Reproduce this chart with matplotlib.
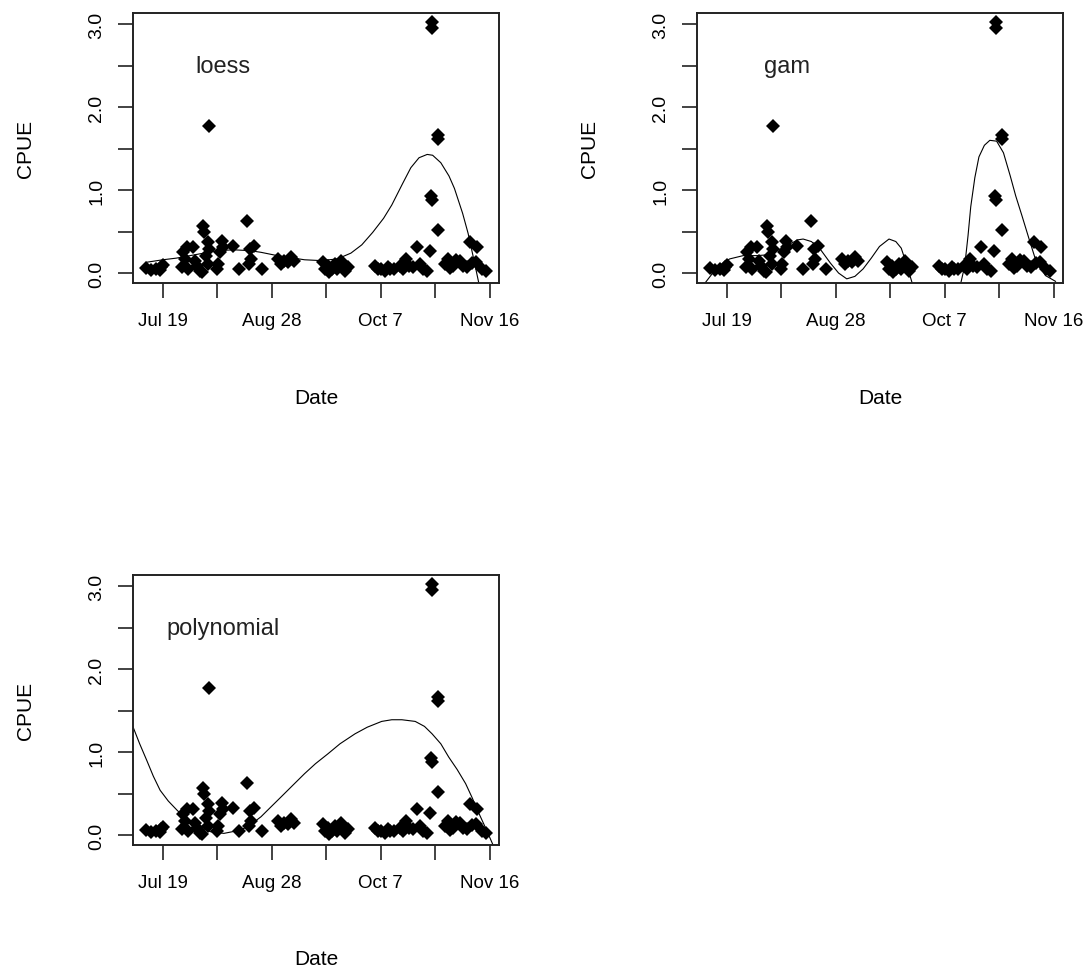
import matplotlib
matplotlib.use("Agg")
import matplotlib.pyplot as plt
import numpy as np

plt.rcParams['font.family'] = ['Liberation Sans', 'DejaVu Sans']

# observations: day of year and CPUE
day = [194.0, 195.5, 197.6, 199.0, 200.1, 199.5,
       206.9, 207.5, 208.0, 208.7, 209.4, 211.2, 211.8, 212.5, 213.7, 214.5,
       214.9, 215.0, 216.8, 216.7, 217.0, 216.0, 216.7, 219.8, 220.3, 221.6,
       222.0, 221.1, 225.9, 227.8, 230.9, 232.0, 232.5, 231.5, 233.3, 236.5,
       242.1, 243.3, 244.5, 246.0, 247.0, 248.2,
       258.7, 259.5, 260.5, 261.0, 262.0, 263.0, 264.0, 265.5, 266.5, 268.0, 267.0,
       277.7, 279.0, 280.2, 281.5, 282.6, 283.5, 285.0, 287.0, 288.0, 289.4,
       290.5, 291.9, 293.1, 294.3, 295.5, 296.8, 298.0,
       298.6, 298.6, 298.4, 298.6, 300.8, 300.8, 301.1,
       303.5, 304.8, 305.5, 306.6, 307.5, 309.1, 310.0, 311.6, 312.8, 313.5,
       315.3, 315.0, 317.0, 318.4]
cpue = [0.06, 0.04, 0.05, 0.04, 0.10, 0.07,
        0.07, 0.25, 0.17, 0.31, 0.05, 0.31, 0.15, 0.08, 0.03, 0.01,
        0.57, 0.49, 1.77, 0.37, 0.29, 0.21, 0.11, 0.05, 0.11, 0.39,
        0.31, 0.25, 0.33, 0.05, 0.63, 0.29, 0.17, 0.11, 0.33, 0.05,
        0.17, 0.11, 0.15, 0.13, 0.19, 0.15,
        0.13, 0.05, 0.09, 0.01, 0.05, 0.11, 0.05, 0.15, 0.09, 0.07, 0.03,
        0.09, 0.05, 0.05, 0.03, 0.07, 0.05, 0.05, 0.09, 0.05, 0.17,
        0.09, 0.07, 0.31, 0.11, 0.05, 0.03, 0.27,
        3.03, 2.96, 0.93, 0.88, 1.66, 1.61, 0.52,
        0.11, 0.17, 0.06, 0.09, 0.16, 0.15, 0.08, 0.07, 0.37, 0.12,
        0.31, 0.13, 0.05, 0.03]

# fitted curves
loess_day = [194, 200, 205, 210, 215, 220, 226, 232, 236, 242, 248, 252, 258, 264,
             269, 273, 277, 281, 284, 288, 291, 294, 297, 299, 302, 305, 307, 310,
             312, 314, 316]
loess_val = [0.13, 0.16, 0.18, 0.21, 0.24, 0.27, 0.28, 0.27, 0.25, 0.21, 0.18, 0.16,
             0.15, 0.17, 0.24, 0.34, 0.49, 0.66, 0.82, 1.08, 1.27, 1.39, 1.43, 1.42,
             1.33, 1.17, 1.02, 0.72, 0.48, 0.18, -0.13]

gam_day = [190, 192, 196, 201, 206, 211, 215, 219, 222, 226, 228, 231, 234, 238,
           241, 244, 247, 250, 253, 256, 259.5, 262, 264, 266, 268, 272, 278, 284,
           286, 287.3, 288.5, 289.5, 291, 292.5, 294.5, 296.5, 299, 301.5, 304, 306,
           308.3, 311, 313.2, 316.9, 320.6]
gam_val = [-0.25, -0.12, 0.05, 0.17, 0.21, 0.21, 0.22, 0.28, 0.33, 0.40, 0.41, 0.38,
           0.30, 0.12, 0.0, -0.07, -0.04, 0.05, 0.18, 0.32, 0.41, 0.38, 0.30, 0.10,
           -0.12, -0.40, -0.50, -0.30, -0.10, 0.09, 0.45, 0.80, 1.15, 1.40, 1.54,
           1.60, 1.59, 1.45, 1.17, 0.93, 0.69, 0.40, 0.17, -0.03, -0.10]

poly_day = [189.1, 191.5, 194.1, 196.5, 199, 202, 205.2, 208, 211.3, 214.5, 217.5,
            222.4, 228.6, 232, 236, 240, 243.4, 248, 252, 256, 260.6, 265, 270.5,
            275, 280.3, 284, 287.7, 292.6, 296, 298.8, 302, 304.9, 308, 311.1, 313.5,
            316, 318.5, 320.9, 323.3]
poly_val = [1.30, 1.10, 0.90, 0.71, 0.54, 0.41, 0.30, 0.21, 0.14, 0.08, 0.04,
            0.02, 0.06, 0.12, 0.22, 0.35, 0.46, 0.61, 0.74, 0.86, 0.98, 1.10, 1.22,
            1.30, 1.37, 1.39, 1.39, 1.37, 1.31, 1.22, 1.10, 0.94, 0.79, 0.62, 0.45,
            0.26, 0.08, -0.10, -0.30]

xticks = [200, 220, 240, 260, 280, 300, 320]
xlabels = ['Jul 19', '', 'Aug 28', '', 'Oct 7', '', 'Nov 16']
yticks = [0, 0.5, 1.0, 1.5, 2.0, 2.5, 3.0]
ylabels = ['0.0', '', '1.0', '', '2.0', '', '3.0']

W, H = 1083, 979
fig = plt.figure(figsize=(W / 100, H / 100), dpi=100)


def panel(left, top, name, cx, cy):
    aw, ah = 366, 270
    ax = fig.add_axes([left / W, 1 - (top + ah) / H, aw / W, ah / H])
    ax.plot(day, cpue, linestyle='none', marker='D', markersize=7.6,
            color='black', markeredgewidth=0)
    ax.plot(cx, cy, color='black', lw=0.8)
    ax.set_xlim(189.05, 323.35)
    ax.set_ylim(-0.12, 3.135)
    ax.set_xticks(xticks)
    ax.set_xticklabels(xlabels)
    ax.set_yticks(yticks)
    ax.set_yticklabels(ylabels, rotation=90, va='center')
    ax.tick_params(length=11, width=1.2, color='#222')
    ax.tick_params(axis='x', labelsize=13.5, pad=10)
    ax.tick_params(axis='y', labelsize=14, pad=9)
    for s in ax.spines.values():
        s.set_linewidth(1.4)
        s.set_color('#222')
    ax.set_xlabel('Date', fontsize=15, va='center')
    ax.xaxis.set_label_coords(0.5, -114 / ah)
    ax.set_ylabel('CPUE', fontsize=15, va='center')
    ax.yaxis.set_label_coords(-108 / aw, 0.5)
    ax.text(222.0, 2.5, name, fontsize=17, color='#222', ha='center', va='center')
    return ax


panel(133, 14, 'loess', loess_day, loess_val)
panel(697, 14, 'gam', gam_day, gam_val)
panel(133, 576, 'polynomial', poly_day, poly_val)

fig.savefig('out.png', dpi=100)
